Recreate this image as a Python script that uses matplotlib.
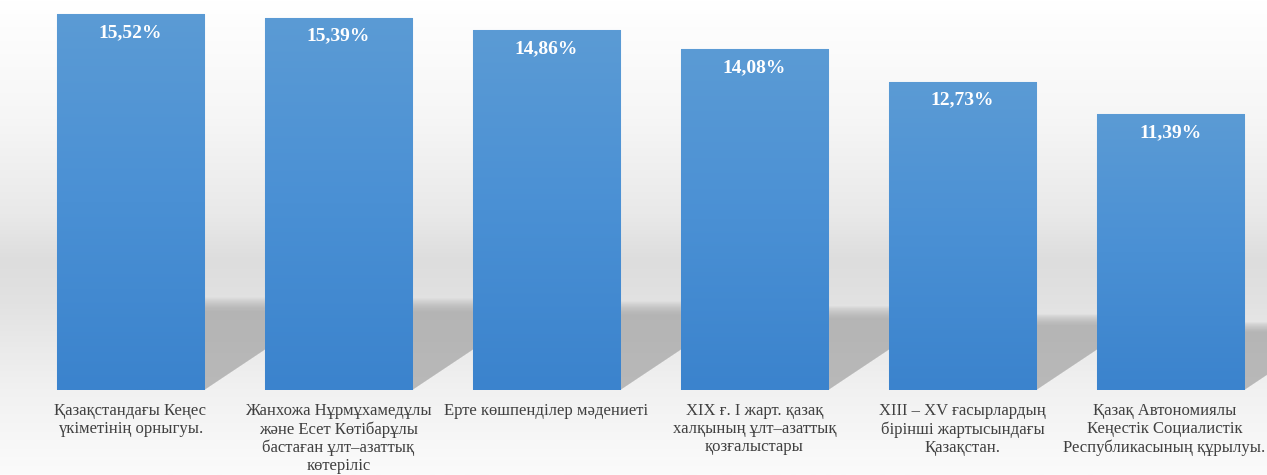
import numpy as np
import matplotlib
matplotlib.use('Agg')
import matplotlib.pyplot as plt
import matplotlib.transforms as mtransforms
from matplotlib.patches import Polygon
from matplotlib.colors import LinearSegmentedColormap

labels = [
    'Қазақстандағы Кеңес\nүкіметінің орныгуы.',
    'Жанхожа Нұрмұхамедұлы\nжәне Есет Көтібарұлы\nбастаған ұлт–азаттық\nкөтеріліс',
    'Ерте көшпенділер мәдениеті',
    'XIX ғ. I жарт. қазақ\nхалқының ұлт–азаттық\nқозғалыстары',
    'XIII – XV ғасырлардың\nбірінші жартысындағы\nҚазақстан.',
    'Қазақ Автономиялы\nКеңестік Социалистік\nРеспубликасының құрылуы.',
]
values = [15.52, 15.39, 14.86, 14.08, 12.73, 11.39]

plt.rcParams['font.family'] = ['Liberation Serif', 'DejaVu Serif']

W, H = 1267, 475
fig = plt.figure(figsize=(W / 100, H / 100), dpi=100)

# background gradient (white top, grey band, lighter floor)
bg = fig.add_axes([0, 0, 1, 1], zorder=-10)
stops = [(0.0, '#ffffff'), (0.25, '#f6f6f6'), (0.45, '#e9e9e9'),
         (0.55, '#dddddd'), (0.64, '#e2e2e2'), (0.72, '#e9e9e9'),
         (0.82, '#f1f1f1'), (1.0, '#fbfbfb')]
bg_cmap = LinearSegmentedColormap.from_list('bg', stops)
bg.imshow(np.linspace(0, 1, 256).reshape(-1, 1), aspect='auto', cmap=bg_cmap,
          extent=[0, 1, 1, 0])
bg.set_xlim(0, 1)
bg.set_ylim(1, 0)
bg.axis('off')

# plot area
left_px, bottom_px = 26.5, 85
ax = fig.add_axes([left_px / W, bottom_px / H, 1 - left_px / W, 1 - bottom_px / H])
ax.patch.set_alpha(0)
x = np.arange(len(values))
ax.set_xlim(-0.5, (W - 130.5) / 208)
ax.set_ylim(0, 390 / 24.2)

bars = ax.bar(x, values, width=0.707, color='#4a8fd3', edgecolor='#9cc4ea',
              linewidth=0.8, zorder=3)

# bar gradient
bar_cmap = LinearSegmentedColormap.from_list('bar', ['#3b83cd', '#4a90d4', '#5b9bd5'])
grad = np.linspace(0, 1, 256).reshape(-1, 1)
for b in bars:
    x0, w, h = b.get_x(), b.get_width(), b.get_height()
    im = ax.imshow(grad, aspect='auto', cmap=bar_cmap, origin='lower',
                   extent=[x0, x0 + w, 0, h], zorder=3.5)
    im.set_clip_path(b)

# floor shadows behind bars, soft top edge
px_x, px_y = 208.0, 24.2
n_layers = 14
for b, v in zip(bars, values):
    xl = b.get_x()
    xr = xl + b.get_width()
    sh = 0.23 * v
    dx = 1.5 * sh * px_y / px_x
    for k in range(n_layers):
        s = 1.07 - k * 0.012
        poly = Polygon([(xl, 0), (xr, 0), (xr + dx * s, sh * s), (xl + dx * s, sh * s)],
                       closed=True, facecolor='#a4a4a4', edgecolor='none',
                       alpha=0.08, zorder=2)
        ax.add_patch(poly)

for b, v in zip(bars, values):
    ax.annotate(f'{v:.2f}%'.replace('.', ','),
                (b.get_x() + b.get_width() / 2, v), xytext=(0, -13),
                textcoords='offset points', ha='center', va='center',
                color='white', fontsize=14, fontweight='bold', zorder=5)

ax.set_xticks(x, labels, fontsize=12, color='#404040', linespacing=1.17, va='top')
ax.tick_params(axis='x', length=0, pad=9.5)
ax.set_yticks([])
for s in ax.spines.values():
    s.set_visible(False)

# nudge the last label left so it stays inside the picture
last = ax.get_xticklabels()[-1]
last.set_transform(last.get_transform() +
                   mtransforms.ScaledTranslation(-6 / 100, 0, fig.dpi_scale_trans))

fig.savefig('out.png', dpi=100)
